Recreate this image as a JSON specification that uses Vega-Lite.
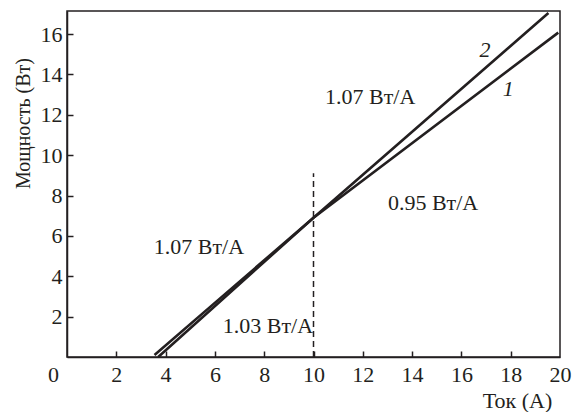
{
  "$schema": "https://vega.github.io/schema/vega-lite/v6.json",
  "width": 493,
  "height": 346,
  "autosize": "none",
  "padding": {"left": 67, "top": 11, "right": 14, "bottom": 55},
  "background": "white",
  "config": {
    "view": {"stroke": "#231f20", "strokeWidth": 1.5},
    "font": "Liberation Serif"
  },
  "datasets": {
    "lines": [
      {"series": "1", "current": 3.7, "power": 0.0},
      {"series": "1", "current": 10.0, "power": 6.9},
      {"series": "1", "current": 19.93, "power": 16.07},
      {"series": "2", "current": 3.55, "power": 0.1},
      {"series": "2", "current": 10.0, "power": 6.9},
      {"series": "2", "current": 19.53, "power": 17.04}
    ],
    "divider": [
      {"current": 10, "power": 0},
      {"current": 10, "power": 9.1}
    ],
    "labels": [
      {"current": 12.3, "power": 12.87, "text": "1.07 Вт/А"},
      {"current": 14.85, "power": 7.62, "text": "0.95 Вт/А"},
      {"current": 5.35, "power": 5.45, "text": "1.07 Вт/А"},
      {"current": 8.15, "power": 1.53, "text": "1.03 Вт/А"}
    ],
    "names": [
      {"current": 16.96, "power": 15.2, "text": "2"},
      {"current": 17.9, "power": 13.3, "text": "1"}
    ]
  },
  "layer": [
    {
      "data": {"name": "lines"},
      "mark": {"type": "line", "color": "#231f20", "strokeWidth": 2.6},
      "encoding": {
        "x": {
          "field": "current", "type": "quantitative",
          "scale": {"domain": [0, 20], "nice": false, "zero": false},
          "axis": {
            "title": "Ток (А)",
            "values": [0, 2, 4, 6, 8, 10, 12, 14, 16, 18, 20],
            "grid": false,
            "domainColor": "#231f20", "domainWidth": 1.5,
            "tickColor": {"condition": {"test": "datum.value == 0 || datum.value == 20", "value": "transparent"}, "value": "#231f20"},
            "tickSize": -6, "tickWidth": 1.5,
            "labelPadding": 13,
            "labelFont": "Liberation Serif", "labelFontSize": 22, "labelColor": "#231f20",
            "labelOffset": {"condition": {"test": "datum.value == 0", "value": -14}, "value": 0},
            "labelFlush": false, "labelOverlap": false,
            "titleFont": "Liberation Serif", "titleFontSize": 22, "titleFontWeight": "normal", "titleColor": "#231f20",
            "titleX": 450, "titleY": 50, "titleAlign": "center", "titleBaseline": "alphabetic"
          }
        },
        "y": {
          "field": "power", "type": "quantitative",
          "scale": {"domain": [0, 17.14], "nice": false, "zero": false},
          "axis": {
            "title": "Мощность (Вт)",
            "values": [2, 4, 6, 8, 10, 12, 14, 16],
            "grid": false,
            "domainColor": "#231f20", "domainWidth": 1.5,
            "tickColor": "#231f20", "tickSize": -6, "tickWidth": 1.5,
            "labelPadding": 11,
            "labelFont": "Liberation Serif", "labelFontSize": 22, "labelColor": "#231f20",
            "labelFlush": false, "labelOverlap": false,
            "titleFont": "Liberation Serif", "titleFontSize": 20, "titleFontWeight": "normal", "titleColor": "#231f20",
            "titleX": -38, "titleY": 112, "titleAlign": "center", "titleBaseline": "alphabetic", "titleAngle": -90
          }
        },
        "detail": {"field": "series"}
      }
    },
    {
      "data": {"name": "divider"},
      "mark": {"type": "line", "color": "#231f20", "strokeWidth": 1.5, "strokeDash": [6, 4]},
      "encoding": {
        "x": {"field": "current", "type": "quantitative"},
        "y": {"field": "power", "type": "quantitative"}
      }
    },
    {
      "data": {"name": "labels"},
      "mark": {"type": "text", "font": "Liberation Serif", "fontSize": 22, "color": "#231f20", "align": "center", "baseline": "middle"},
      "encoding": {
        "x": {"field": "current", "type": "quantitative"},
        "y": {"field": "power", "type": "quantitative"},
        "text": {"field": "text"}
      }
    },
    {
      "data": {"name": "names"},
      "mark": {"type": "text", "font": "Liberation Serif", "fontSize": 22, "fontStyle": "italic", "color": "#231f20", "align": "center", "baseline": "middle"},
      "encoding": {
        "x": {"field": "current", "type": "quantitative"},
        "y": {"field": "power", "type": "quantitative"},
        "text": {"field": "text"}
      }
    }
  ]
}
